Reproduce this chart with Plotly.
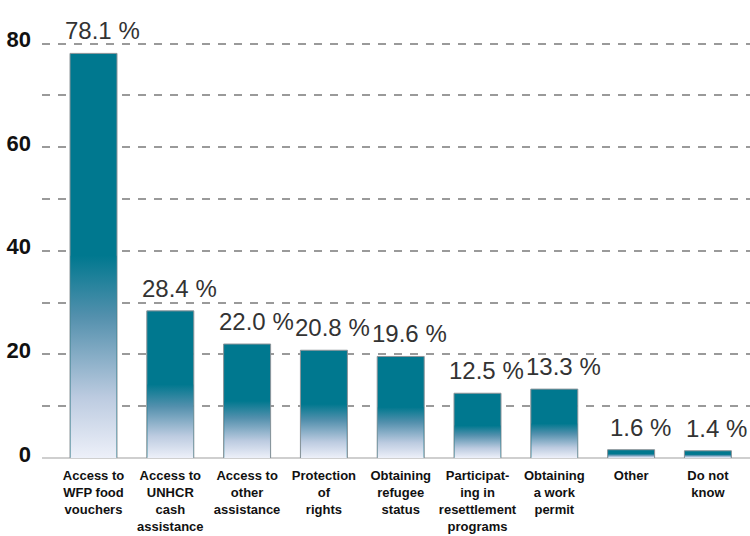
import plotly.graph_objects as go

categories = [
    "Access to<br>WFP food<br>vouchers",
    "Access to<br>UNHCR<br>cash<br>assistance",
    "Access to<br>other<br>assistance",
    "Protection<br>of<br>rights",
    "Obtaining<br>refugee<br>status",
    "Participat-<br>ing in<br>resettlement<br>programs",
    "Obtaining<br>a work<br>permit",
    "Other",
    "Do not<br>know",
]
values = [78.1, 28.4, 22.0, 20.8, 19.6, 12.5, 13.3, 1.6, 1.4]
value_labels = ["78.1 %", "28.4 %", "22.0 %", "20.8 %", "19.6 %", "12.5 %", "13.3 %", "1.6 %", "1.4 %"]
y_ticks = [0, 20, 40, 60, 80]

TEAL = "#00788f"
EDGE = "#8d9499"
FONT = "Liberation Sans Narrow, Arial Narrow, Liberation Sans, Arial, sans-serif"
BAR_W = 0.612
INSET = 0.008

idx = list(range(len(categories)))

fig = go.Figure()
fig.add_trace(go.Bar(
    x=idx, y=values, width=BAR_W,
    marker=dict(color=TEAL, line=dict(color=EDGE, width=1)),
    hoverinfo="skip", showlegend=False,
))

# gradient fade in the lower part of each bar
for i, v in zip(idx, values):
    h = v * 0.5
    x0, x1 = i - BAR_W / 2 + INSET, i + BAR_W / 2 - INSET
    fig.add_trace(go.Scatter(
        x=[x0, x1, x1, x0, x0],
        y=[0, 0, h, h, 0],
        mode="lines", fill="toself",
        line=dict(width=0),
        fillgradient=dict(
            type="vertical",
            colorscale=[[0, "#edf0f9"], [0.3, "#bccbe0"],
                        [0.7, "#5390ad"], [1, TEAL]],
        ),
        hoverinfo="skip", showlegend=False,
    ))

for i, v, t in zip(idx, values, value_labels):
    fig.add_annotation(
        x=i, y=v, text=t, showarrow=False, xanchor="center", yanchor="bottom",
        xshift=9, yshift=7,
        font=dict(family=FONT, size=24, color="#333333"),
    )

fig.update_layout(
    width=750, height=536,
    margin=dict(l=42, r=0, t=42, b=78),
    paper_bgcolor="white", plot_bgcolor="white",
    bargap=0.39,
    xaxis=dict(
        range=[-0.6706, 8.548], tickmode="array", tickvals=idx, ticktext=categories,
        showgrid=False, zeroline=False, showline=False, ticks="",
        tickfont=dict(family=FONT, size=13, color="#111111", weight="bold"),
        ticklabelstandoff=8, automargin=False,
    ),
    yaxis=dict(
        range=[0, 80.3], tickmode="array", tickvals=y_ticks,
        showgrid=True, gridcolor="#9a9a9a", gridwidth=2, griddash="8px,8px",
        minor=dict(dtick=10, showgrid=True, gridcolor="#9a9a9a", gridwidth=2, griddash="8px,8px"),
        zeroline=True, zerolinecolor="#cfcfcf", zerolinewidth=1.5,
        showline=False, ticks="",
        tickfont=dict(family=FONT, size=22, color="#111111", weight="bold"),
        ticklabelstandoff=10, ticklabelshift=-4, automargin=False,
    ),
)

fig.write_html("out.html", config={"displayModeBar": False},
               post_script="document.body.style.margin='0';")
